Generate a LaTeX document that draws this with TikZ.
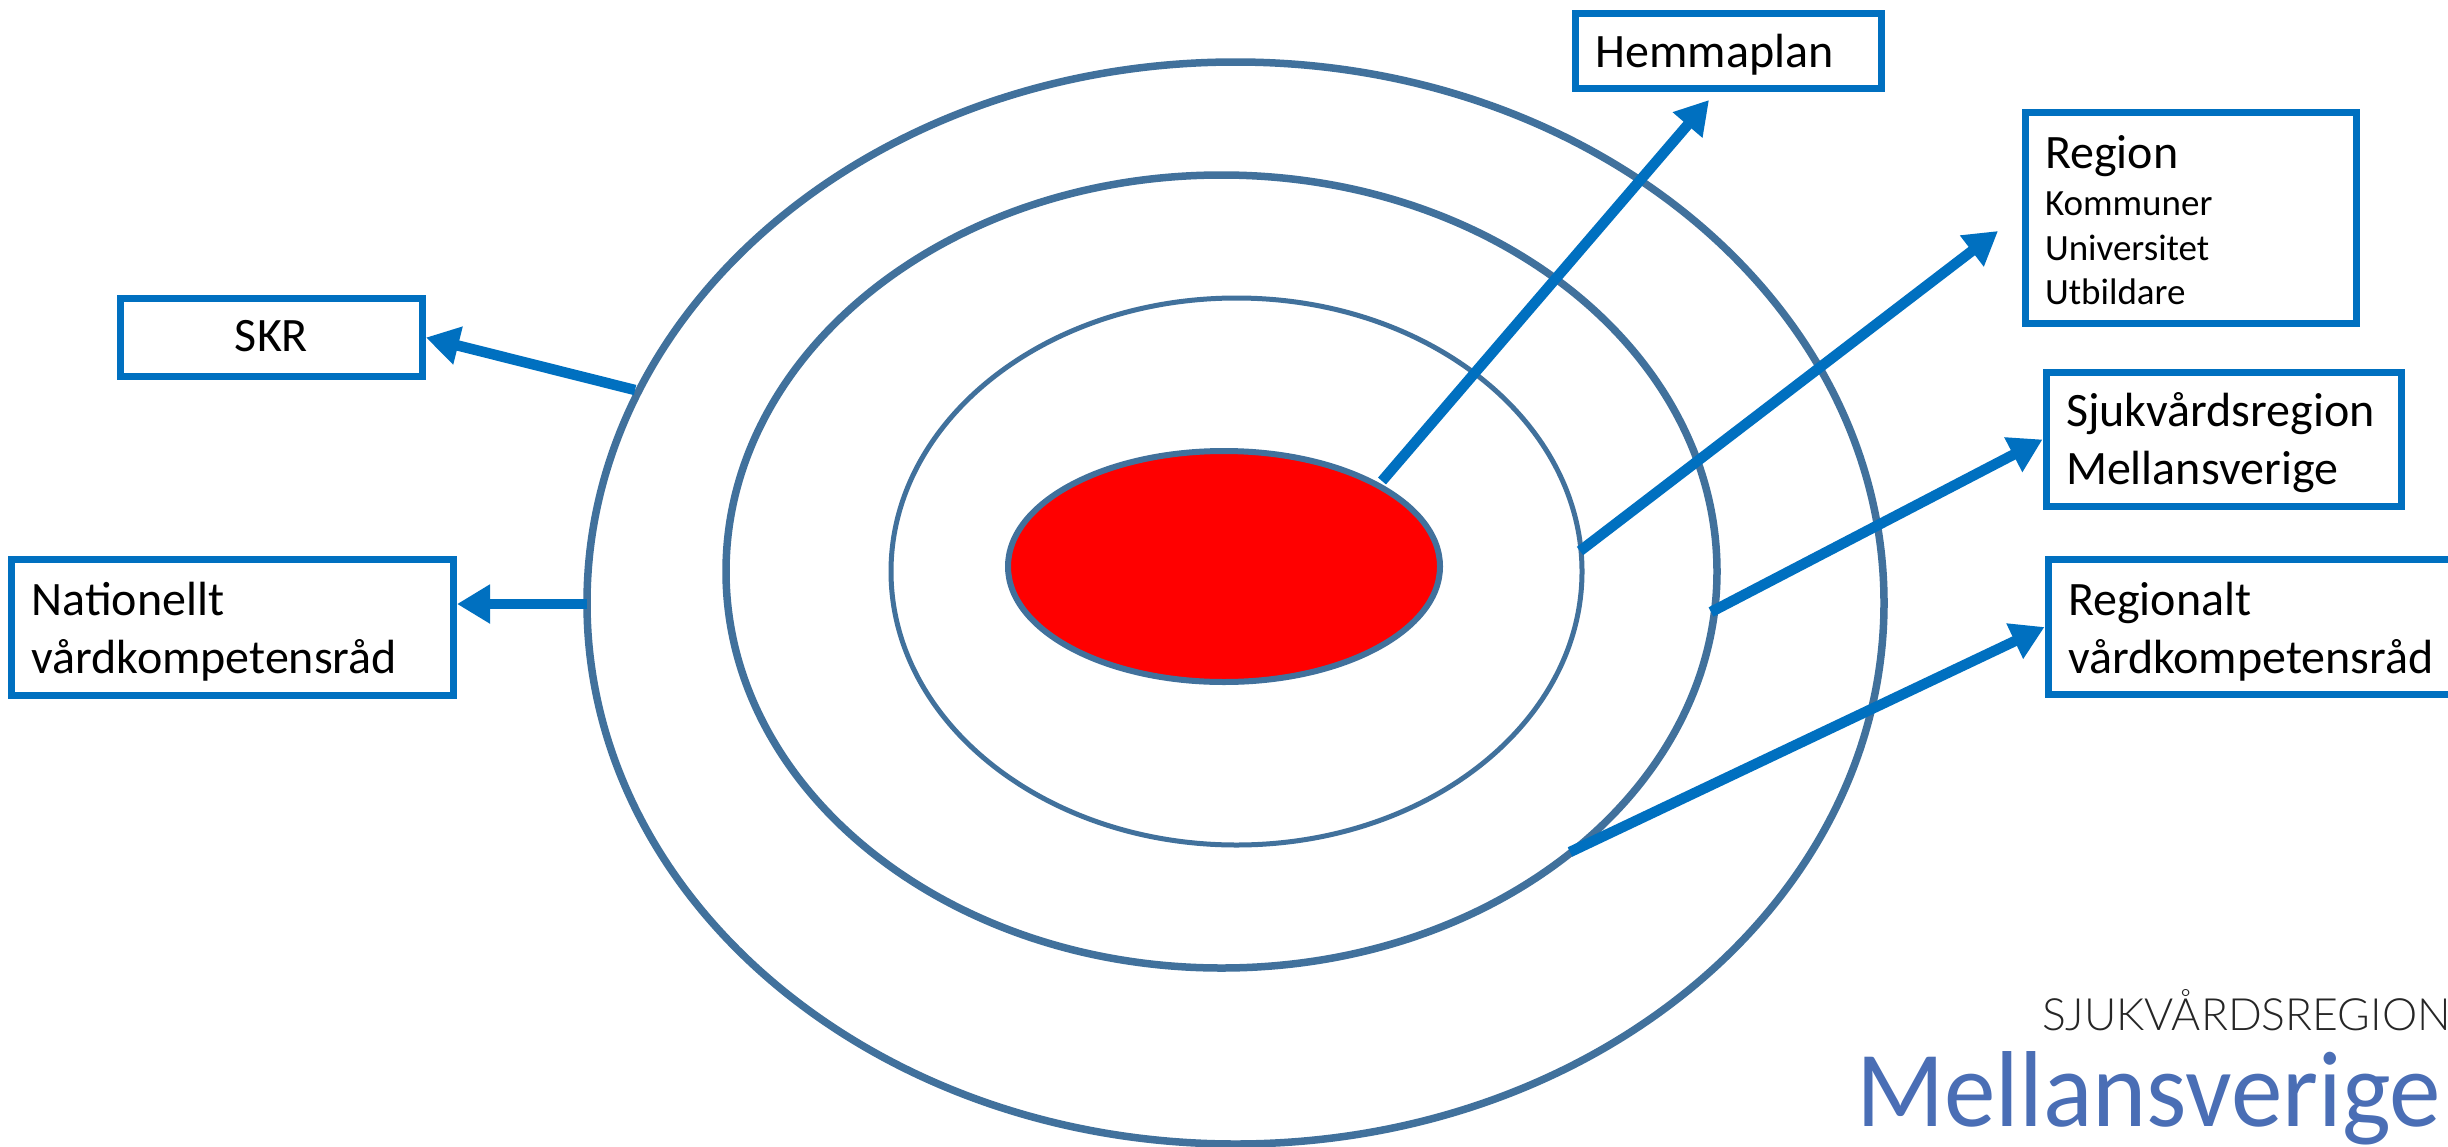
\documentclass[tikz,border=0pt]{standalone}
\usepackage{fontspec}
\setmainfont{Carlito}
\newfontfamily\logolight[UprightFont=* Light]{Lato}
\newfontfamily\logoreg[FakeStretch=0.955]{Carlito}
\usetikzlibrary{shapes.geometric,arrows.meta}
\definecolor{boxblue}{HTML}{0070C0}
\definecolor{ringblue}{HTML}{41719C}
\definecolor{logoblue}{HTML}{4A6EB5}
\newcommand{\firstline}[1]{\rule{0pt}{#1pt}}
\tikzset{
  ring/.style={shape=ellipse,draw=ringblue,inner sep=0pt,outer sep=0pt},
  infobox/.style={draw=boxblue,line width=7pt,fill=white,inner xsep=20pt,inner ysep=0pt,outer sep=3.5pt,align=left,font=\fontsize{48}{58}\selectfont,text=black},
  flow/.style={draw=boxblue,line width=10.5pt,-{Triangle[length=33pt,width=37pt]}},
}
\begin{document}
\begin{tikzpicture}[x=1pt,y=-1pt]
\clip (0,0) rectangle (2448,1146);
\fill[white] (0,0) rectangle (2448,1146);
% rings
\node[ring,line width=7.5pt,minimum width=1297pt,minimum height=1082pt] (outer) at (1235.5,603) {};
\node[ring,line width=7.5pt,minimum width=991pt,minimum height=793pt] (middle) at (1221.5,571.5) {};
\node[ring,line width=5pt,minimum width=691pt,minimum height=547pt] (inner) at (1236.5,571.5) {};
\node[ring,line width=6pt,fill=red,minimum width=432pt,minimum height=231pt] (core) at (1224,566.5) {};
% boxes
\node[infobox,minimum height=75pt,text width=266pt] (hem) at (1728.5,51) {\firstline{41}Hemmaplan};
\node[infobox,minimum height=211pt,text width=291pt] (reg) at (2190.5,218) {\firstline{37}Region\\[3pt]\fontsize{37}{44.5}\selectfont Kommuner\\Universitet\\[-13.5pt]Utbildare};
\node[infobox,minimum height=134pt,text width=315pt] (sjuk) at (2223.5,439.5) {\firstline{40}Sjukvårdsregion\\Mellansverige};
\node[infobox,minimum height=135pt,text width=382pt] (regr) at (2259,627) {\firstline{42}Regionalt\\vårdkompetensråd};
\node[infobox,minimum height=78pt,text width=262pt,align=center] (skr) at (271.5,337.5) {\raisebox{4pt}{SKR}};
\node[infobox,minimum height=136pt,text width=402pt] (nat) at (232.5,627.5) {\firstline{42}Nationellt\\vårdkompetensråd};
% connector ends
\coordinate (hemtip) at (1709,100);
\coordinate (regtip) at (1998,231);
\coordinate (nattip) at (457,604);
\coordinate (hemstart) at (1382,481);
\coordinate (regstart) at (1580,551);
\coordinate (sjukstart) at (1711,612);
\coordinate (regrstart) at (1570,852);
\coordinate (skrstart) at (635,390);
\coordinate (natstart) at (587,604);
% connectors
\draw[flow] (hemstart) -- (hemtip);
\draw[flow] (regstart) -- (regtip);
\draw[flow] (sjukstart) -- (sjuk.west);
\draw[flow] (regrstart) -- (regr.west);
\draw[flow] (skrstart) -- (skr.east);
\draw[flow] (natstart) -- (nattip);
% logo
\node[anchor=base west,inner sep=0pt,text=black!85] (logotop) at (2042,1030) {\logolight\fontsize{44.5}{45}\selectfont SJUKVÅRDSREGION};
\node[anchor=base west,inner sep=0pt,text=logoblue] (logomain) at (1856,1126) {\logoreg\fontsize{108}{108}\selectfont Mellansverige};
\end{tikzpicture}
\end{document}
